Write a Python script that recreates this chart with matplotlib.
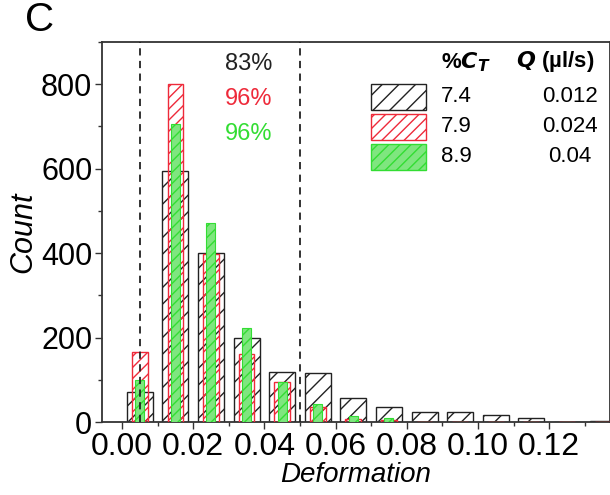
import numpy as np
import matplotlib.pyplot as plt
from matplotlib.patches import Rectangle
from matplotlib.ticker import MultipleLocator

plt.rcParams['font.family'] = ['Liberation Sans', 'DejaVu Sans']
plt.rcParams['hatch.linewidth'] = 1.0

# histogram bins (centres) and counts
bin_centers = [0.005, 0.015, 0.025, 0.035, 0.045, 0.055, 0.065, 0.075,
               0.085, 0.095, 0.105, 0.115, 0.125, 0.135]
count_74 = [72, 595, 400, 198, 118, 115, 56, 36, 24, 24, 16, 10, 0, 2]
count_79 = [165, 800, 398, 160, 95, 36, 8, 5, 0, 0, 0, 0, 0, 0]
count_89 = [100, 705, 472, 222, 95, 42, 15, 10, 0, 0, 0, 0, 0, 0]

ct_values = ['7.4', '7.9', '8.9']
q_values = ['0.012', '0.024', '0.04']
pct_labels = ['83%', '96%', '96%']
cut_lines = [0.005, 0.05]

black = '#222222'
red = '#ee2a3a'
green = '#33dd33'

fig = plt.figure(figsize=(6.1, 4.95), dpi=100)
ax = fig.add_axes([102 / 610, 1 - 422 / 495, 508 / 610, 380 / 495])

ax.bar(bin_centers, count_74, width=0.0073, facecolor='white', edgecolor=black,
       hatch='//', linewidth=1.0, zorder=2)
ax.bar(bin_centers, count_79, width=0.0044, facecolor='none', edgecolor=red,
       hatch='///', linewidth=1.0, zorder=3)
ax.bar(bin_centers, count_89, width=0.0025, facecolor='#7fe67f', edgecolor=green,
       hatch='///', linewidth=0.8, zorder=4)

for xv in cut_lines:
    ax.axvline(xv, color=black, linestyle=(0, (4, 3)), linewidth=1.3, zorder=5)

ax.set_xlim(-0.0056, 0.1371)
ax.set_ylim(0, 900)
ax.xaxis.set_major_locator(MultipleLocator(0.02))
ax.xaxis.set_minor_locator(MultipleLocator(0.01))
ax.yaxis.set_major_locator(MultipleLocator(200))
ax.yaxis.set_minor_locator(MultipleLocator(100))
ax.xaxis.set_major_formatter(plt.FormatStrFormatter('%.2f'))
ax.tick_params(which='major', direction='out', length=5, width=1,
               color='#333333', pad=2)
ax.tick_params(axis='x', labelsize=23)
ax.tick_params(axis='y', labelsize=22)
ax.tick_params(which='minor', direction='out', length=3, width=1, color='#333333')
for s in ax.spines.values():
    s.set_color('#333333')
    s.set_linewidth(1.3)

ax.set_xlabel('Deformation', fontsize=20, fontstyle='italic', labelpad=0)
ax.set_ylabel('Count', fontsize=22, fontstyle='italic', labelpad=2)

fig.text(40 / 610, 1 - 20 / 495, 'C', fontsize=29, ha='center', va='center')

# percentages
for lab, col, yp in zip(pct_labels, [black, red, green], [64, 99, 134]):
    fig.text(249 / 610, 1 - yp / 495, lab, color=col, fontsize=17,
             ha='center', va='center')

# custom legend
fig.text(466 / 610, 1 - 62 / 495, r'%$\mathbfit{C}_\mathbfit{T}$', fontsize=16,
         fontweight='bold', ha='center', va='center')
fig.text(555 / 610, 1 - 62 / 495, r'$\mathbfit{Q}$ (µl/s)', fontsize=16,
         fontweight='bold', ha='center', va='center')
leg_rows = [97, 127, 157]
styles = [('white', black, '//'), ('white', red, '///'), ('#7fe67f', green, '///')]
for (fc, ec, h), yp, ct, q in zip(styles, leg_rows, ct_values, q_values):
    fig.patches.append(Rectangle((371 / 610, 1 - (yp + 13) / 495), 55 / 610, 26 / 495,
                                 transform=fig.transFigure, facecolor=fc,
                                 edgecolor=ec, hatch=h, linewidth=1.0))
    fig.text(456 / 610, 1 - yp / 495, ct, fontsize=16, ha='center', va='center')
    fig.text(570 / 610, 1 - yp / 495, q, fontsize=16, ha='center', va='center')

fig.savefig('out.png', dpi=100)
